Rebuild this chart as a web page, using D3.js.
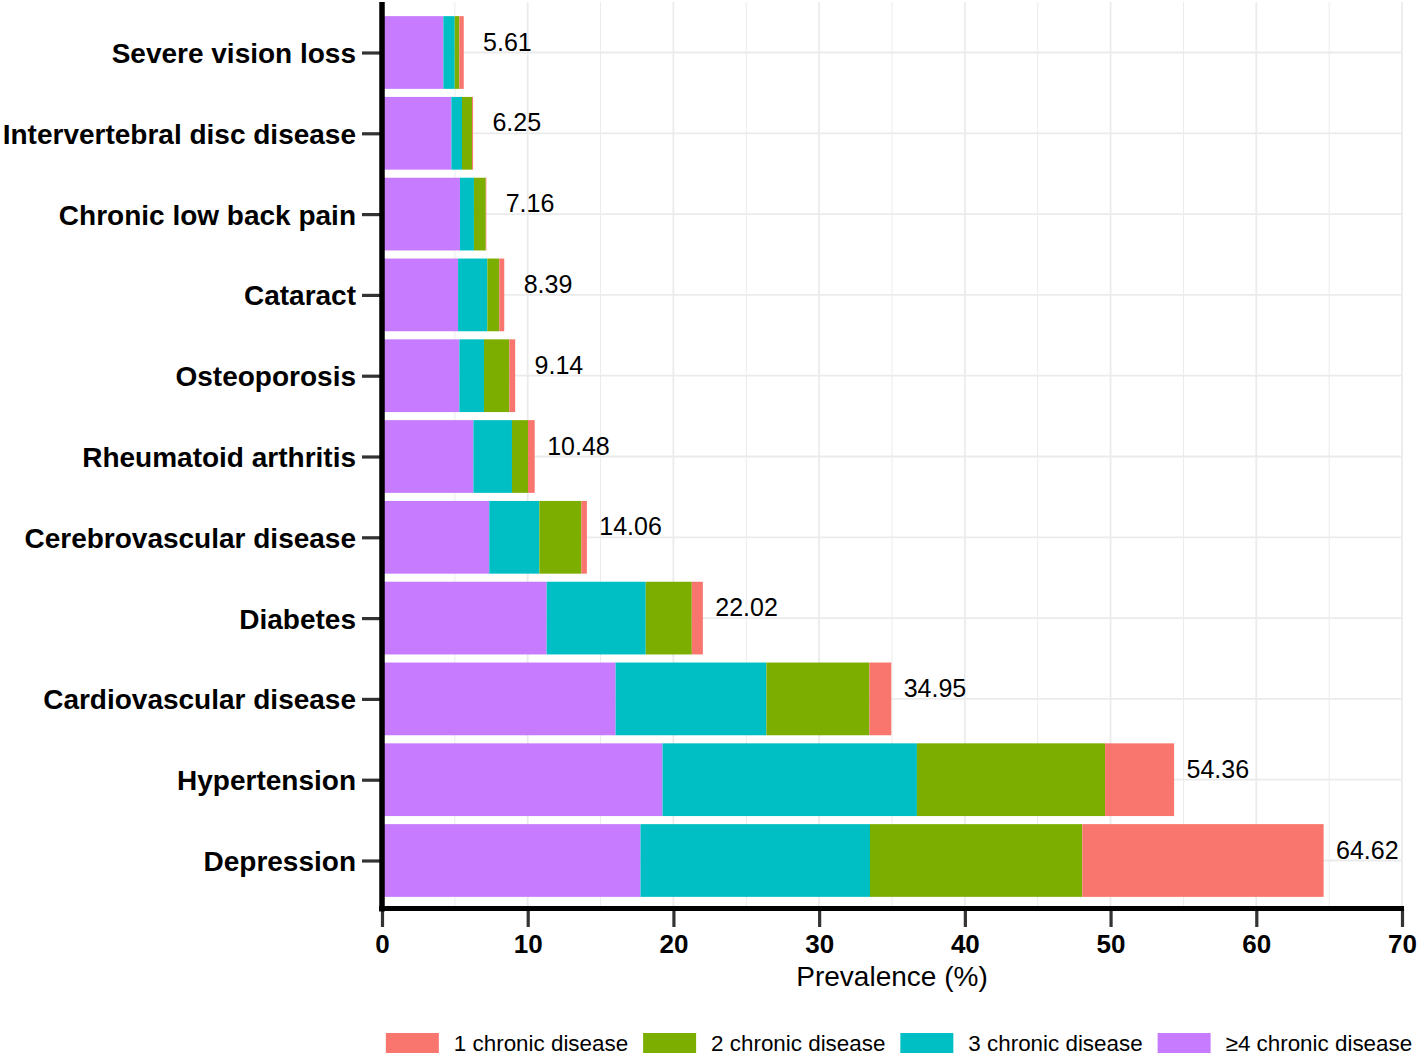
<!DOCTYPE html>
<html>
<head>
<meta charset="utf-8">
<script src="https://cdn.jsdelivr.net/npm/d3@7"></script>
<style>
  html, body { margin: 0; padding: 0; background: #fff; }
  svg { display: block; font-family: "Liberation Sans", Arial, Helvetica, sans-serif; }
</style>
</head>
<body>
<svg id="chart" width="1418" height="1055"></svg>
<script>
// ---- data ----
const categories = ["Severe vision loss","Intervertebral disc disease","Chronic low back pain","Cataract","Osteoporosis","Rheumatoid arthritis","Cerebrovascular disease","Diabetes","Cardiovascular disease","Hypertension","Depression"];
const seriesNames = ["≥4 chronic disease","3 chronic disease","2 chronic disease","1 chronic disease"];
const fourPlus  = [4.21, 4.76, 5.35, 5.22, 5.31, 6.27, 7.36, 11.30, 16.03, 19.25, 17.74];
const three     = [0.78, 0.73, 0.96, 2.01, 1.69, 2.65, 3.44, 6.80, 10.35, 17.46, 15.75];
const two       = [0.32, 0.69, 0.81, 0.82, 1.74, 1.10, 2.88, 3.16, 7.07, 12.91, 14.57];
const one       = [0.30, 0.07, 0.04, 0.34, 0.40, 0.46, 0.38, 0.76, 1.50, 4.74, 16.56];
const totals    = [5.61, 6.25, 7.16, 8.39, 9.14, 10.48, 14.06, 22.02, 34.95, 54.36, 64.62];
const xTicks    = [0, 10, 20, 30, 40, 50, 60, 70];
const legendOrder = ["1 chronic disease","2 chronic disease","3 chronic disease","≥4 chronic disease"];
const colors = {"1 chronic disease":"#F8766D","2 chronic disease":"#7CAE00","3 chronic disease":"#00BFC4","≥4 chronic disease":"#C77CFF"};

// ---- layout ----
const svg = d3.select("#chart");
const L = 382, R = 1402, T = 2, B = 911;
const x = d3.scaleLinear().domain([0, 70]).range([L, R]);
const y = d3.scalePoint().domain(categories).range([T, B]).padding(0.625);
const barH = y.step() * 0.9;

const rows = categories.map((c, i) => ({cat: c, "≥4 chronic disease": fourPlus[i], "3 chronic disease": three[i], "2 chronic disease": two[i], "1 chronic disease": one[i]}));
const stack = d3.stack().keys(seriesNames)(rows);

// grid
const grid = svg.append("g");
d3.range(5, 70, 10).forEach(v => {
  grid.append("line").attr("x1", x(v)).attr("x2", x(v)).attr("y1", T).attr("y2", B)
    .attr("stroke", "#ebebeb").attr("stroke-width", 1);
});
xTicks.forEach(v => {
  grid.append("line").attr("x1", x(v)).attr("x2", x(v)).attr("y1", T).attr("y2", B)
    .attr("stroke", "#ebebeb").attr("stroke-width", 1.8);
});
categories.forEach(c => {
  grid.append("line").attr("x1", L).attr("x2", R).attr("y1", y(c)).attr("y2", y(c))
    .attr("stroke", "#ebebeb").attr("stroke-width", 1.8);
});

// bars
svg.append("g").selectAll("g").data(stack).join("g")
  .attr("fill", d => colors[d.key])
  .selectAll("rect").data(d => d).join("rect")
  .attr("x", d => x(d[0]))
  .attr("width", d => Math.max(0, x(d[1]) - x(d[0])))
  .attr("y", d => y(d.data.cat) - barH / 2)
  .attr("height", barH);

// value labels
svg.append("g").selectAll("text").data(categories).join("text")
  .attr("x", (c, i) => x(totals[i] + 3))
  .attr("y", c => y(c) - 2)
  .attr("text-anchor", "middle")
  .attr("font-size", 25)
  .attr("fill", "#000")
  .text((c, i) => totals[i].toFixed(2));

// y axis
const yAxis = svg.append("g").attr("transform", `translate(${L},0)`)
  .call(d3.axisLeft(y).tickSize(20).tickPadding(6));
yAxis.select(".domain").remove();
yAxis.selectAll(".tick line").attr("stroke", "#333").attr("stroke-width", 3.2).attr("x2", -20);
yAxis.selectAll(".tick text").attr("font-size", 28).attr("font-weight", "bold").attr("fill", "#000")
  .attr("font-family", '"Liberation Sans", Arial, sans-serif').attr("dy", "0.36em");

// x axis
const xAxis = svg.append("g").attr("transform", `translate(0,${B - 2})`)
  .call(d3.axisBottom(x).tickValues(xTicks).tickSize(18).tickPadding(8).tickFormat(d3.format("d")));
xAxis.select(".domain").remove();
xAxis.selectAll(".tick line").attr("stroke", "#333").attr("stroke-width", 3.2);
xAxis.selectAll(".tick text").attr("font-size", 26).attr("font-weight", "bold").attr("fill", "#000")
  .attr("font-family", '"Liberation Sans", Arial, sans-serif');

// axis lines
svg.append("line").attr("x1", L).attr("x2", L).attr("y1", T).attr("y2", B + 0.5)
  .attr("stroke", "#000").attr("stroke-width", 5.5);
svg.append("line").attr("x1", L - 3).attr("x2", R + 2).attr("y1", B - 2.5).attr("y2", B - 2.5)
  .attr("stroke", "#000").attr("stroke-width", 5);

// axis title
svg.append("text").attr("x", (L + R) / 2).attr("y", 986).attr("text-anchor", "middle")
  .attr("font-size", 28).attr("fill", "#000").text("Prevalence (%)");

// legend
const lg = svg.append("g");
let cx = 0;
legendOrder.forEach(name => {
  const g = lg.append("g").attr("transform", `translate(${cx},0)`);
  g.append("rect").attr("x", 0).attr("y", 1033).attr("width", 53).attr("height", 20).attr("fill", colors[name]);
  const t = g.append("text").attr("x", 68).attr("y", 1051).attr("font-size", 22.4).attr("fill", "#000").text(name);
  const w = t.node().getComputedTextLength();
  cx += 68 + w + 15;
});
const totalW = cx - 15;
lg.attr("transform", `translate(${899 - totalW / 2},0)`);
</script>
</body>
</html>
